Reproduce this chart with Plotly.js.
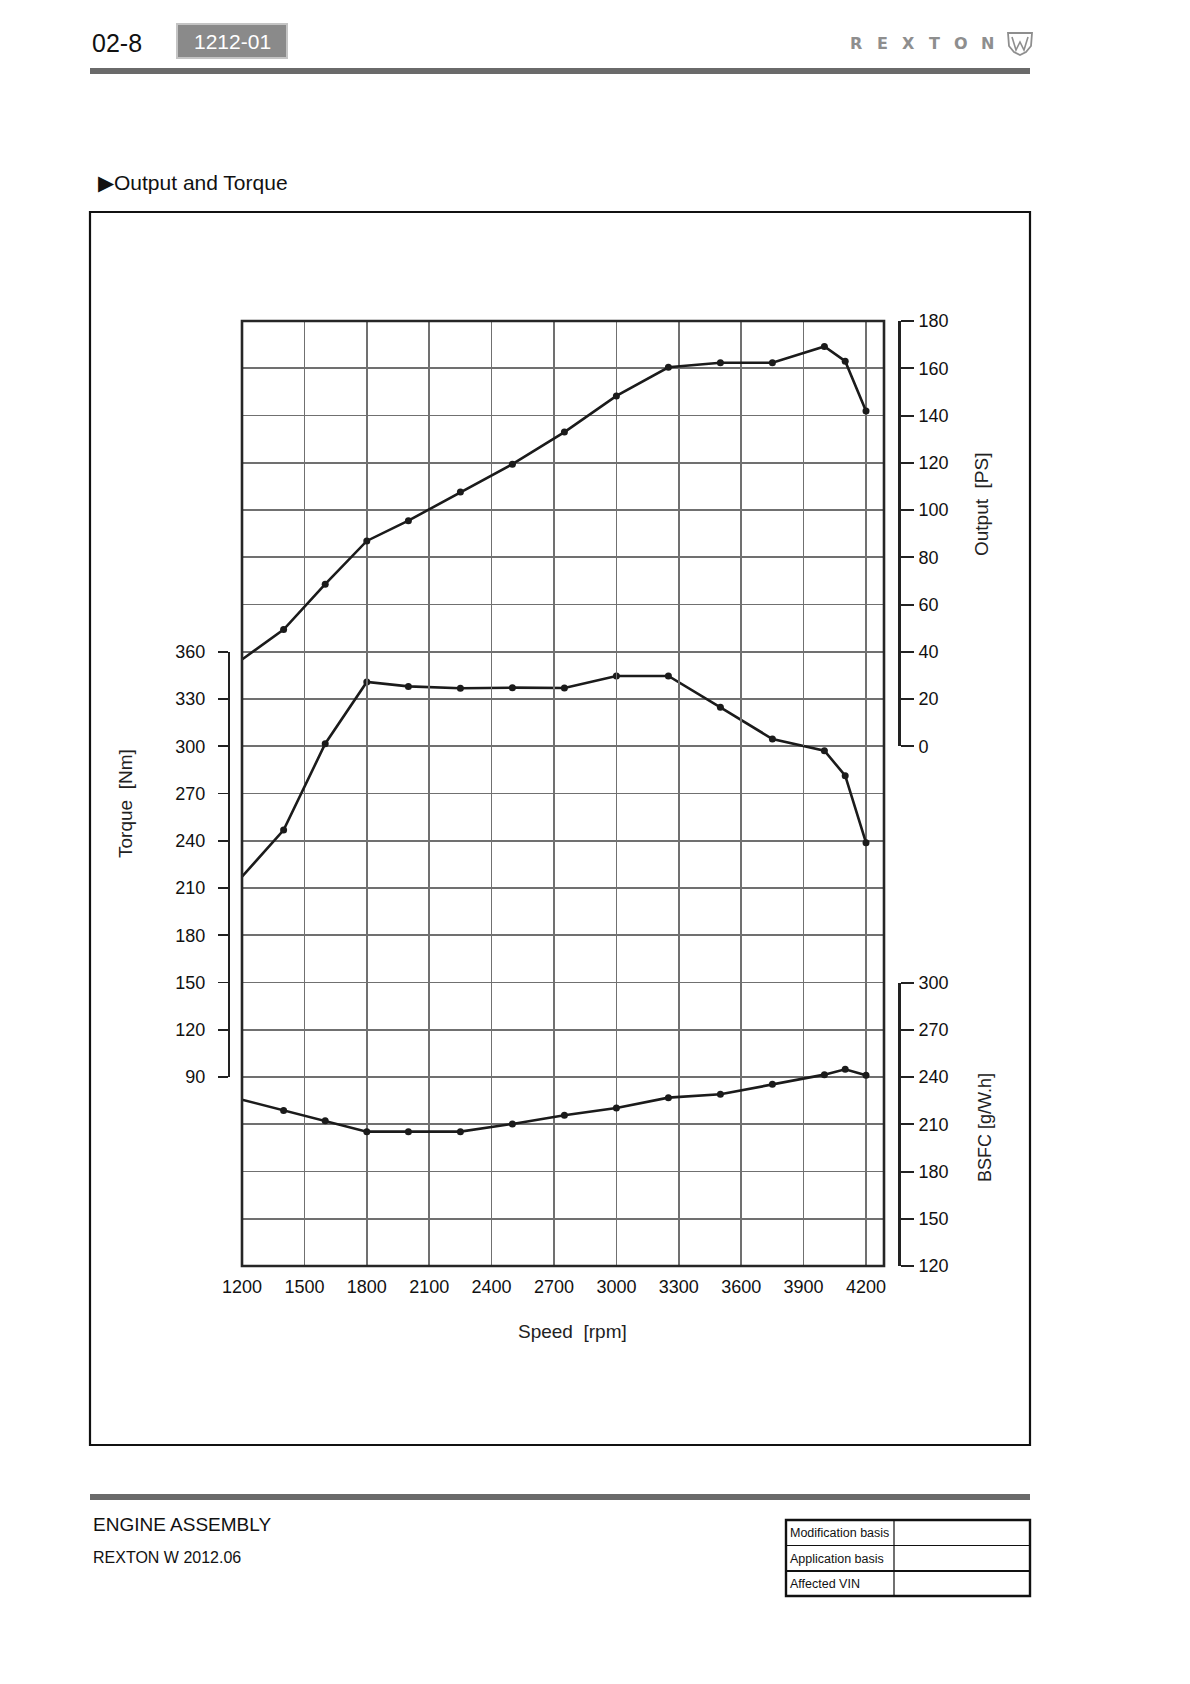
<!DOCTYPE html>
<html>
<head>
<meta charset="utf-8">
<script src="https://cdn.plot.ly/plotly-3.0.1.min.js"></script>
<style>
html,body{margin:0;padding:0;background:#ffffff;}
#chart{width:1190px;height:1684px;}
</style>
</head>
<body>
<div id="chart"></div>
<script>
// ---------------- data ----------------
const speedRpm   = [1200,1400,1600,1800,2000,2250,2500,2750,3000,3250,3500,3750,4000,4100,4200];
const outputPS   = [36.7,49.4,68.6,86.9,95.5,107.6,119.4,133,148.3,160.4,162.3,162.3,169.2,163,141.9];
const torqueNm   = [217.2,246.8,301.6,340.8,338,336.8,337.2,337,344.6,344.6,324.7,304.6,297.2,281.3,238.8];
const bsfcGWh    = [225.6,218.8,212.3,205.3,205.3,205.3,210.2,215.7,220.3,226.9,229,235.4,241.5,244.9,241.1];

const speedTicks  = [1200,1500,1800,2100,2400,2700,3000,3300,3600,3900,4200];
const torqueTicks = [90,120,150,180,210,240,270,300,330,360];
const outputTicks = [0,20,40,60,80,100,120,140,160,180];
const bsfcTicks   = [120,150,180,210,240,270,300];

const pageTexts = {
  page: "02-8", code: "1212-01", brand: "REXTON",
  heading: "\u25B6Output and Torque",
  xTitle: "Speed  [rpm]", torqueTitle: "Torque  [Nm]", outputTitle: "Output  [PS]", bsfcTitle: "BSFC [g/W.h]",
  section: "ENGINE ASSEMBLY", model: "REXTON W 2012.06",
  rows: ["Modification basis", "Application basis", "Affected VIN"]
};

// ---------------- geometry helpers (page pixels -> paper) ----------------
const W = 1190, H = 1684;
const PX = x => x / W;
const PY = y => 1 - y / H;
const L = 242, R = 884, T = 321, B = 1266;      // plot frame in page pixels
const rowPx = k => T + k * (B - T) / 20;        // 20 grid rows
const GX = 62.4;                                 // px per 300 rpm
const xMax = 1200 + (R - L) * 300 / GX;

const FONT = "Liberation Sans, Arial, Helvetica, sans-serif";
const INK = "#1b1b1b";
const GRID = "#707070";

const lineStyle = {color: INK, width: 2.6};
const markStyle = {color: INK, size: 7, symbol: "circle"};

// lines through every point; markers only on points inside the frame
// (the point on the left frame edge is hidden under the frame in the reference)
const inner = speedRpm.map((v, i) => i).filter(i => speedRpm[i] > 1200);
const pick = arr => inner.map(i => arr[i]);

const series = [
  {name: "Output", y: outputPS, axis: "y3"},
  {name: "Torque", y: torqueNm, axis: "y2"},
  {name: "BSFC",   y: bsfcGWh,  axis: "y4"}
];

const traces = [
  // empty carrier so that the gridded main subplot (x / y) exists
  {x: [], y: [], xaxis: "x", yaxis: "y", type: "scatter", mode: "lines", hoverinfo: "skip", name: "grid"}
];
series.forEach(s => {
  traces.push({x: speedRpm, y: s.y, xaxis: "x", yaxis: s.axis, type: "scatter", mode: "lines",
               line: lineStyle, hoverinfo: "skip", name: s.name});
  traces.push({x: pick(speedRpm), y: pick(s.y), xaxis: "x", yaxis: s.axis, type: "scatter", mode: "markers",
               marker: markStyle, cliponaxis: false, hoverinfo: "skip", name: s.name + " points"});
});

const tickFont = {family: FONT, size: 18, color: "#111"};

const layout = {
  width: W, height: H,
  margin: {l: 0, r: 0, t: 0, b: 0, pad: 0},
  paper_bgcolor: "#ffffff",
  plot_bgcolor: "rgba(0,0,0,0)",
  showlegend: false,
  xaxis: {
    domain: [PX(L), PX(R)], range: [1200, xMax], anchor: "y",
    tickvals: speedTicks, ticktext: speedTicks.map(String),
    showgrid: true, gridcolor: GRID, gridwidth: 1.6,
    zeroline: false, showline: false, ticks: "",
    tickfont: tickFont, ticklabelstandoff: 8, fixedrange: true
  },
  yaxis: {   // grid carrier (torque scale over full frame)
    domain: [PY(B), PY(T)], range: [-30, 570], tick0: 0, dtick: 30, anchor: "x",
    showgrid: true, gridcolor: GRID, gridwidth: 1.6,
    showticklabels: false, ticks: "", zeroline: false, showline: false, fixedrange: true
  },
  yaxis2: {  // torque
    domain: [PY(rowPx(16)), PY(rowPx(7))], range: [90, 360],
    anchor: "free", position: PX(228), side: "left",
    tickvals: torqueTicks, ticks: "outside", ticklen: 10, tickwidth: 1.6, tickcolor: "#222",
    showline: true, linecolor: "#222", linewidth: 1.6,
    showgrid: false, zeroline: false, tickfont: tickFont, ticklabelstandoff: 9, fixedrange: true
  },
  yaxis3: {  // output
    domain: [PY(rowPx(9)), PY(rowPx(0))], range: [0, 180],
    anchor: "free", position: PX(899), side: "right",
    tickvals: outputTicks, ticks: "outside", ticklen: 13, tickwidth: 2, tickcolor: "#222",
    showline: true, linecolor: "#222", linewidth: 2.8,
    showgrid: false, zeroline: false, tickfont: tickFont, ticklabelstandoff: 1, fixedrange: true
  },
  yaxis4: {  // BSFC
    domain: [PY(rowPx(20)), PY(rowPx(14))], range: [120, 300],
    anchor: "free", position: PX(899), side: "right",
    tickvals: bsfcTicks, ticks: "outside", ticklen: 13, tickwidth: 2, tickcolor: "#222",
    showline: true, linecolor: "#222", linewidth: 2.8,
    showgrid: false, zeroline: false, tickfont: tickFont, ticklabelstandoff: 1, fixedrange: true
  },
  shapes: [],
  annotations: []
};

const S = layout.shapes, A = layout.annotations;
const rectPx = (x0, y0, x1, y1, line, fill, layer) => S.push({
  type: "rect", xref: "paper", yref: "paper",
  x0: PX(x0), x1: PX(x1), y0: PY(y1), y1: PY(y0),
  line: line || {width: 0}, fillcolor: fill || "rgba(0,0,0,0)", layer: layer || "above"
});
const linePx = (x0, y0, x1, y1, color, width) => S.push({
  type: "line", xref: "paper", yref: "paper",
  x0: PX(x0), x1: PX(x1), y0: PY(y0), y1: PY(y1),
  line: {color: color, width: width}, layer: "above"
});
const pathPx = (pts, close, color, width) => {
  let d = pts.map((p, i) => (i ? "L" : "M") + PX(p[0]).toFixed(5) + "," + PY(p[1]).toFixed(5)).join(" ");
  if (close) d += " Z";
  S.push({type: "path", xref: "paper", yref: "paper", path: d, line: {color: color, width: width}, layer: "above"});
};
const text = (t, x, y, o) => A.push(Object.assign({
  text: t, xref: "paper", yref: "paper", x: PX(x), y: PY(y),
  xanchor: "left", yanchor: "middle", showarrow: false,
  font: {family: FONT, size: 18, color: "#111"}
}, o || {}));

// plot frame
rectPx(L, T, R, B, {color: "#262626", width: 2.6}, null);

// header
text(pageTexts.page, 90, 43, {font: {family: FONT, size: 25, color: "#111"}});
rectPx(177, 24, 287, 58, {color: "#c4c4c4", width: 2}, "#8a8a8a", "below");
text(pageTexts.code, 232, 41, {xanchor: "center", font: {family: FONT, size: 21, color: "#ffffff"}});
rectPx(90, 68, 1030, 74, null, "#6a6a6a");
pageTexts.brand.split("").forEach((ch, i) => {
  text(ch, 856 + i * 26.3, 44, {xanchor: "center",
       font: {family: "DejaVu Sans, sans-serif", size: 16, color: "#8e8e8e", weight: "bold"}});
});
pathPx([[1008,33],[1032,33],[1031,46],[1026,52],[1020,55],[1014,52],[1009,46]], true, "#8e8e8e", 1.8);
pathPx([[1012,37],[1016,50],[1020,42],[1024,50],[1028,37]], false, "#8e8e8e", 1.6);

// heading + outer frame
text(pageTexts.heading, 96, 183, {font: {family: FONT, size: 21, color: "#111"}});
rectPx(90, 212, 1030, 1445, {color: "#111", width: 2.2}, null);

// axis titles
text(pageTexts.torqueTitle, 125, 804, {xanchor: "center", textangle: -90, font: {family: FONT, size: 19, color: "#222"}});
text(pageTexts.outputTitle, 981, 504, {xanchor: "center", textangle: -90, font: {family: FONT, size: 19, color: "#222"}});
text(pageTexts.bsfcTitle, 985, 1127, {xanchor: "center", textangle: -90, font: {family: FONT, size: 18, color: "#222"}});
text(pageTexts.xTitle, 572, 1331, {xanchor: "center", font: {family: FONT, size: 19, color: "#222"}});

// footer
rectPx(90, 1494, 1030, 1500, null, "#6a6a6a");
text(pageTexts.section, 91, 1524, {font: {family: FONT, size: 19, color: "#111"}});
text(pageTexts.model, 91, 1557, {font: {family: FONT, size: 16, color: "#111"}});
rectPx(786, 1520, 1030, 1596, {color: "#111", width: 2.4}, null);
linePx(786, 1545.5, 1030, 1545.5, "#111", 1.2);
linePx(786, 1571, 1030, 1571, "#111", 2);
linePx(894, 1520, 894, 1596, "#111", 1.2);
pageTexts.rows.forEach((r, i) => text(r, 788, 1533 + i * 25.5, {font: {family: FONT, size: 12.5, color: "#111"}}));

Plotly.newPlot("chart", traces, layout, {displayModeBar: false, staticPlot: true});
</script>
</body>
</html>
